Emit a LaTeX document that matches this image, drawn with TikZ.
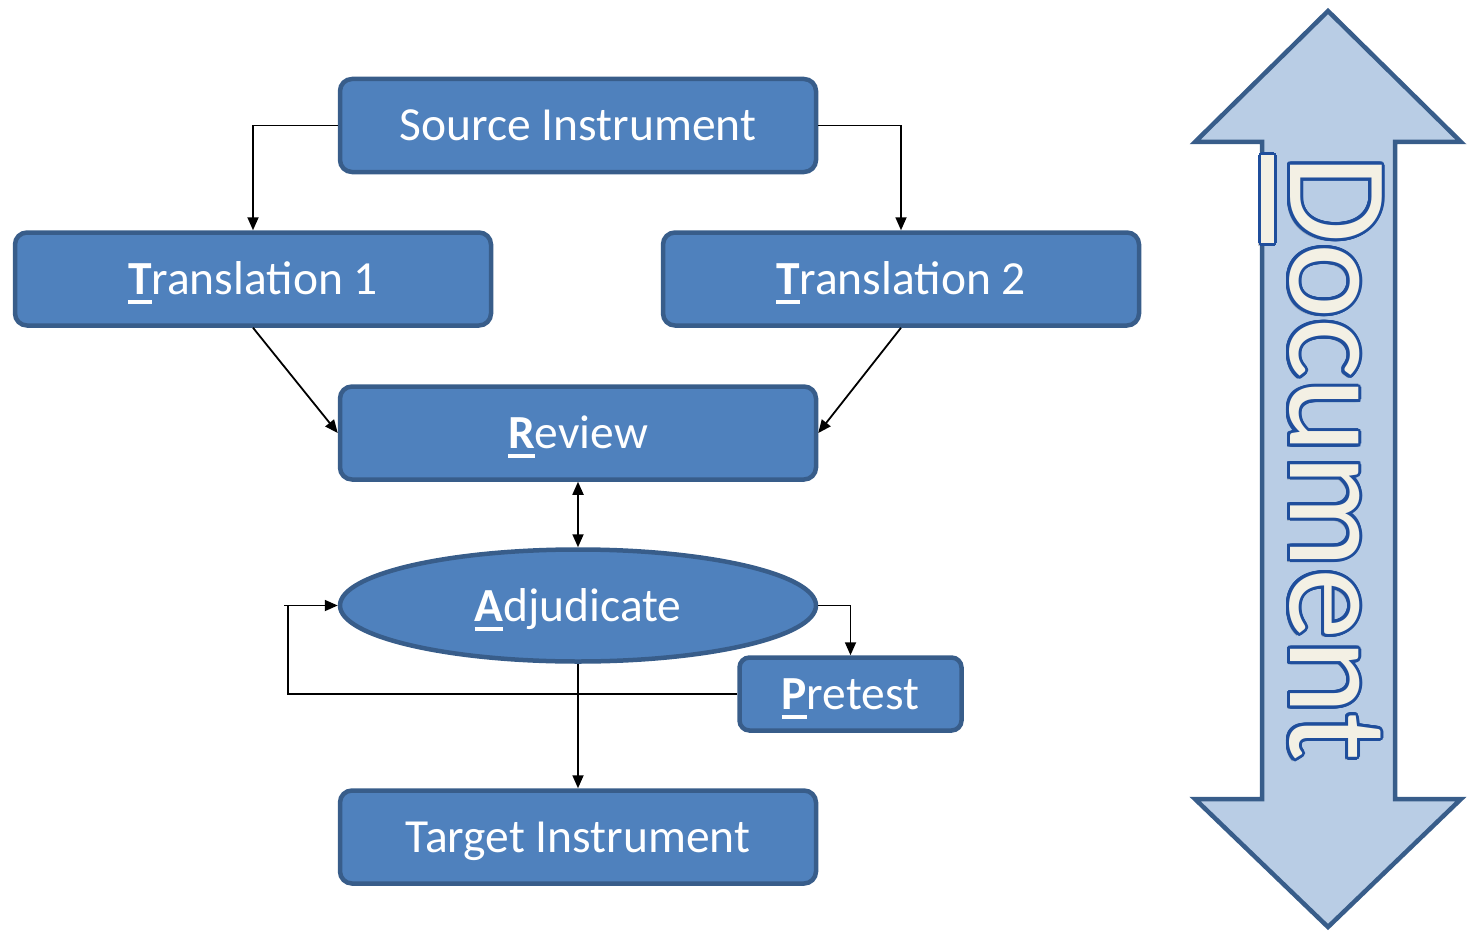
\documentclass[tikz,border=0pt]{standalone}
\usepackage{fontspec}
\setmainfont{Carlito}
\usetikzlibrary{arrows.meta,shapes.geometric}
\definecolor{boxfill}{HTML}{4F81BD}
\definecolor{boxline}{HTML}{385D8A}
\definecolor{arrfill}{HTML}{B9CDE5}
\definecolor{docline}{HTML}{1F4E9C}
\definecolor{doccream}{HTML}{F3F0E4}
\newcommand\myul[1]{\setbox0\hbox{#1}\rlap{\rule[-0.2em]{\wd0}{0.085em}}\box0}
\begin{document}
\begin{tikzpicture}[x=1pt,y=-1pt,
  stepbox/.style={draw=boxline, fill=boxfill, line width=4.5pt, rounded corners=12pt,
    text=white, font=\fontsize{47.5}{50}\selectfont, minimum width=476pt,
    minimum height=93pt, inner sep=0pt, text height=31pt, text depth=0pt},
  ellbox/.style={ellipse, draw=boxline, fill=boxfill, line width=4.5pt,
    text=white, font=\fontsize{47.5}{50}\selectfont, minimum width=476pt,
    minimum height=112pt, inner sep=0pt, text height=32pt, text depth=0pt},
  conn/.style={draw=black, line width=1.8pt, -{Triangle[length=13pt,width=11pt]}},
  dconn/.style={draw=black, line width=1.8pt, {Triangle[length=13pt,width=11pt]}-{Triangle[length=13pt,width=11pt]}},
  doctext/.style={rotate=-90, anchor=base west, inner sep=0pt,
    font=\fontsize{143}{150}\selectfont},
  bigarrow/.style={draw=boxline, fill=arrfill, line width=4.5pt}
]
\useasboundingbox (0,0) rectangle (1467,931);

% double-headed document arrow
\draw[bigarrow] (1328,11) -- (1461,142) -- (1395,142) -- (1395,799) -- (1461,799)
  -- (1328,927) -- (1195,799) -- (1262,799) -- (1262,142) -- (1195,142) -- cycle;
\node[doctext, text=black, opacity=0.18] at (1287,158) {\myul{D}ocument};
\foreach \a in {0,15,...,345}
  \node[doctext, text=docline] at ([shift={(\a:3)}]1290,155) {\myul{D}ocument};
\node[doctext, text=doccream] (doc) at (1290,155) {\myul{D}ocument};

% process nodes
\node[stepbox] (src) at (578,125.5) {Source Instrument};
\node[stepbox] (t1) at (253,279) {\myul{\textbf{T}}ranslation 1};
\node[stepbox] (t2) at (901,279) {\myul{\textbf{T}}ranslation 2};
\node[stepbox] (rev) at (578,433) {\myul{\textbf{R}}eview};
\node[ellbox] (adj) at (578,605.5) {\myul{\textbf{A}}djudicate};
\node[stepbox, minimum width=222pt, minimum height=73pt, rounded corners=10pt] (pre) at (850.5,694) {\myul{\textbf{P}}retest};
\node[stepbox] (tgt) at (578,837) {Target Instrument};

\coordinate (lp) at (288,605.5);
\coordinate (ls) at (284,605.5);

% connectors
\draw[conn] (src.west) -| (t1.north);
\draw[conn] (src.east) -| (t2.north);
\draw[conn] (t1.south) -- (rev.west);
\draw[conn] (t2.south) -- (rev.east);
\draw[dconn] (rev.south) -- (adj.north);
\draw[conn] (adj.east) -| (pre.north);
\draw[conn] (adj.south) -- (tgt.north);
\draw[conn] (pre.west) -| (lp) -- (ls) -- (adj.west);
\end{tikzpicture}
\end{document}
